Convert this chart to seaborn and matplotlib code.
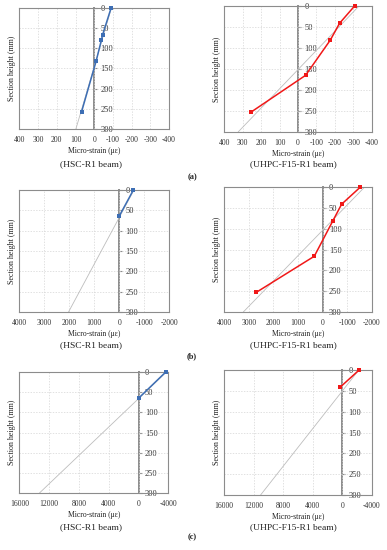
import numpy as np
import matplotlib
matplotlib.use('Agg')
import matplotlib.pyplot as plt
import seaborn as sns

sns.set_style('white')
plt.rcParams['font.family'] = ['Liberation Serif', 'DejaVu Serif']
plt.rcParams['axes.unicode_minus'] = False

# measured strain profiles (micro-strain) vs. section height (mm)
hsc_a_strain = [-90, -45, -38, -10, 68]
hsc_a_depth = [0, 66, 80, 132, 258]
hsc_a_fit = [-92, 98]

uhpc_a_strain = [-306, -225, -175, -41, 252]
uhpc_a_depth = [0, 41, 81, 165, 252]
uhpc_a_fit = [-330, 324]

hsc_b_strain = [-570, 5]
hsc_b_depth = [0, 65]
hsc_b_fit = [-595, 2030]

uhpc_b_strain = [-1527, -770, -405, 338, 2700]
uhpc_b_depth = [0, 41, 82, 166, 253]
uhpc_b_fit = [-1700, 3220]

hsc_c_strain = [-3650, 0]
hsc_c_depth = [0, 65]
hsc_c_fit = [-3750, 13300]

uhpc_c_strain = [-2250, 300]
uhpc_c_depth = [0, 41]
uhpc_c_fit = [-2212, 11060]

fit_depth = [0, 300]
y_ticks = [0, 50, 100, 150, 200, 250, 300]

x_ticks_a = [400, 300, 200, 100, 0, -100, -200, -300, -400]
x_ticks_b = [4000, 3000, 2000, 1000, 0, -1000, -2000]
x_ticks_c = [16000, 12000, 8000, 4000, 0, -4000]

blue = '#3D6EB4'
red = '#F01818'

fig = plt.figure(figsize=(3.87, 5.5), dpi=100)

panels = [
    ([0.050, 0.7655, 0.387, 0.220], hsc_a_strain, hsc_a_depth, hsc_a_fit, x_ticks_a, blue),
    ([0.579, 0.760, 0.382, 0.229], uhpc_a_strain, uhpc_a_depth, uhpc_a_fit, x_ticks_a, red),
    ([0.050, 0.4327, 0.387, 0.222], hsc_b_strain, hsc_b_depth, hsc_b_fit, x_ticks_b, blue),
    ([0.579, 0.4327, 0.382, 0.227], uhpc_b_strain, uhpc_b_depth, uhpc_b_fit, x_ticks_b, red),
    ([0.050, 0.1036, 0.385, 0.220], hsc_c_strain, hsc_c_depth, hsc_c_fit, x_ticks_c, blue),
    ([0.579, 0.100, 0.382, 0.227], uhpc_c_strain, uhpc_c_depth, uhpc_c_fit, x_ticks_c, red),
]

for rect, strain, depth, fit, xt, col in panels:
    ax = fig.add_axes(rect)
    # linear fit
    sns.lineplot(x=fit, y=fit_depth, ax=ax, color='#BDBDBD', lw=0.6,
                 sort=False, estimator=None)
    # measured
    sns.lineplot(x=strain, y=depth, ax=ax, color=col, lw=1.1, marker='s',
                 markersize=2.8, markeredgewidth=0, sort=False, estimator=None,
                 clip_on=False, zorder=5)
    ax.set_xlim(xt[0], xt[-1])
    ax.set_ylim(300, 0)
    ax.set_xticks(xt)
    ax.set_xticklabels([str(v) for v in xt])
    ax.set_yticks(y_ticks)
    ax.tick_params(axis='x', length=0, labelsize=5.5, pad=5, colors='#333333')
    ax.tick_params(axis='y', left=False, labelleft=False)
    ax.grid(True, color='#D4D4D4', lw=0.5, linestyle=(0, (2, 2)))
    for s in ax.spines.values():
        s.set_color('#8C8C8C')
        s.set_linewidth(0.8)
    ax.set_xlabel('Micro-strain (με)', fontsize=5.5, labelpad=2, color='#222222')
    ax.set_ylabel('Section height (mm)', fontsize=5.8, color='#222222')
    ax.yaxis.set_label_coords(-0.02, 0.5)

    # y axis sitting on the zero-strain line
    sec = ax.secondary_yaxis(0, transform=ax.transData)
    sec.set_alignment('right')
    sec.set_yticks(y_ticks)
    sec.tick_params(axis='y', labelsize=6, length=2, pad=2.5, colors='#333333',
                    color='#8C8C8C')
    sec.spines['right'].set_color('#8C8C8C')
    sec.spines['right'].set_linewidth(1.4)

# captions
for y in [164, 345, 527]:
    fig.text(91 / 387, 1 - y / 550, '(HSC-R1 beam)', ha='center', va='center',
             fontsize=6.8, color='#222222')
    fig.text(293 / 387, 1 - y / 550, '(UHPC-F15-R1 beam)', ha='center', va='center',
             fontsize=6.8, color='#222222')
for y, lab in [(177, '(a)'), (356, '(b)'), (537, '(c)')]:
    fig.text(192 / 387, 1 - y / 550, lab, ha='center', va='center',
             fontsize=6, fontweight='bold', color='#222222')

fig.savefig('out.png', dpi=100)
